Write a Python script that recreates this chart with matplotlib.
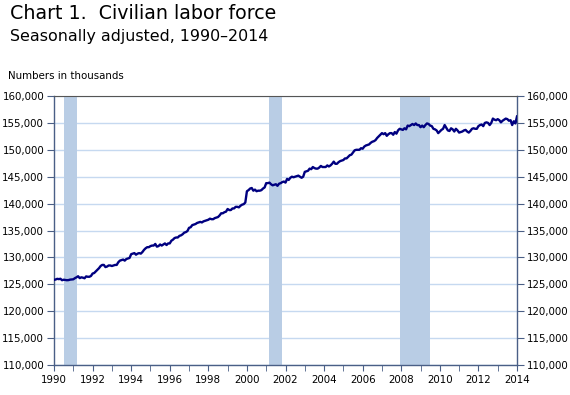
import numpy as np
import matplotlib
matplotlib.use("Agg")
import matplotlib.pyplot as plt
from matplotlib.ticker import FuncFormatter, MultipleLocator

# civilian labor force, seasonally adjusted, thousands (monthly, Jan 1990 - Jan 2014)
lf_1990 = [125830, 125890, 126020, 125960, 126030, 125760, 125850, 125810, 125760, 125780, 125870, 125900]
lf_1991 = [125930, 126140, 126300, 126500, 126150, 126300, 126230, 126120, 126470, 126400, 126400, 126550]
lf_1992 = [127000, 127100, 127400, 127700, 128000, 128400, 128600, 128600, 128200, 128300, 128500, 128500]
lf_1993 = [128400, 128500, 128600, 128600, 129100, 129400, 129500, 129600, 129400, 129700, 129800, 129900]
lf_1994 = [130600, 130700, 130800, 130500, 130700, 130800, 130700, 131000, 131400, 131700, 131900, 131900]
lf_1995 = [132100, 132200, 132200, 132500, 132000, 132100, 132400, 132200, 132400, 132600, 132300, 132600]
lf_1996 = [132600, 133100, 133300, 133600, 133700, 133700, 134000, 134100, 134300, 134600, 134700, 134900]
lf_1997 = [135500, 135600, 136000, 136100, 136200, 136400, 136500, 136600, 136500, 136700, 136800, 136900]
lf_1998 = [137000, 137200, 137100, 137100, 137300, 137400, 137500, 137800, 138200, 138200, 138400, 138500]
lf_1999 = [139000, 138800, 138800, 139100, 139100, 139400, 139400, 139300, 139600, 139800, 139900, 140200]
lf_2000 = [142300, 142500, 142800, 142900, 142400, 142600, 142300, 142400, 142400, 142500, 142800, 143000]
lf_2001 = [143800, 143800, 143900, 143600, 143400, 143500, 143600, 143300, 143700, 143800, 144000, 144100]
lf_2002 = [143900, 144600, 144400, 144800, 145000, 144900, 145000, 145100, 145200, 145000, 144800, 145000]
lf_2003 = [145900, 146000, 146100, 146500, 146400, 146800, 146600, 146500, 146500, 146700, 147000, 146800]
lf_2004 = [146800, 146800, 147100, 146900, 147100, 147400, 147800, 147400, 147400, 147700, 147900, 148000]
lf_2005 = [148100, 148400, 148400, 148700, 149000, 149100, 149500, 149900, 150000, 150000, 150000, 150300]
lf_2006 = [150200, 150600, 150800, 150900, 151000, 151300, 151500, 151600, 151800, 152200, 152500, 152800]
lf_2007 = [153100, 152900, 153100, 152600, 152900, 153100, 153100, 152800, 153300, 153000, 153600, 153900]
lf_2008 = [153800, 153700, 154000, 153800, 154500, 154400, 154600, 154800, 154600, 154900, 154600, 154600]
lf_2009 = [154200, 154500, 154200, 154600, 154900, 154800, 154500, 154400, 153900, 153800, 153600, 153100]
lf_2010 = [153400, 153700, 153900, 154600, 154100, 153600, 153500, 154000, 153800, 153400, 153900, 153600]
lf_2011 = [153200, 153300, 153400, 153600, 153700, 153400, 153200, 153500, 153900, 154000, 153900, 153900]
lf_2012 = [154400, 154600, 154700, 154400, 155000, 155100, 155000, 154600, 155000, 155800, 155600, 155500]
lf_2013 = [155700, 155500, 155100, 155400, 155600, 155800, 155700, 155400, 155500, 154600, 155300, 154900]
lf_2014 = [156200]

# recessions (start, end) in decimal years
rec_start = [1990.5, 2001.167, 2007.917]
rec_end = [1991.167, 2001.833, 2009.5]

values = (lf_1990 + lf_1991 + lf_1992 + lf_1993 + lf_1994 + lf_1995 + lf_1996 + lf_1997
          + lf_1998 + lf_1999 + lf_2000 + lf_2001 + lf_2002 + lf_2003 + lf_2004 + lf_2005
          + lf_2006 + lf_2007 + lf_2008 + lf_2009 + lf_2010 + lf_2011 + lf_2012 + lf_2013 + lf_2014)
dates = 1990 + np.arange(len(values)) / 12.0

spine_col = "#4a5f86"
fig = plt.figure(figsize=(5.7, 3.95), dpi=100)
ax = fig.add_axes([54/570, 1-365/395, (517-54)/570, (365-96)/395])

for s, e in zip(rec_start, rec_end):
    ax.axvspan(s, e, color="#b9cde5", lw=0, zorder=1)

ax.plot(dates, values, color="#000080", lw=1.7, zorder=3)

ax.set_xlim(1990, 2014)
ax.set_ylim(110000, 160000)
ax.yaxis.set_major_locator(MultipleLocator(5000))
ax.xaxis.set_major_locator(MultipleLocator(2))
ax.xaxis.set_minor_locator(MultipleLocator(1))
ax.yaxis.set_major_formatter(FuncFormatter(lambda v, p: "{:,.0f}".format(v)))
ax.xaxis.set_major_formatter(FuncFormatter(lambda v, p: "%d" % v))
ax.grid(axis="y", color="#c6d9f0", lw=1.0, zorder=0)
ax.set_axisbelow(True)

for side in ["left", "right", "bottom"]:
    ax.spines[side].set_color(spine_col)
    ax.spines[side].set_linewidth(1.0)
ax.spines["top"].set_color("#555555")
ax.spines["top"].set_linewidth(0.8)

ax.tick_params(axis="y", which="both", direction="out", length=5, color=spine_col,
               labelsize=7.4, left=True, right=True, labelleft=True, labelright=True, pad=2)
ax.tick_params(axis="x", which="both", direction="out", length=4, color=spine_col,
               labelsize=7.4, pad=3)

fig.text(10/570, 1-4/395, "Chart 1.  Civilian labor force", fontsize=13.7, va="top", ha="left")
fig.text(10/570, 1-29/395, "Seasonally adjusted, 1990\u20132014", fontsize=11.4, va="top", ha="left")
fig.text(8/570, 1-76/395, "Numbers in thousands", fontsize=7.4, va="center", ha="left")

fig.savefig("out.png", dpi=100)
